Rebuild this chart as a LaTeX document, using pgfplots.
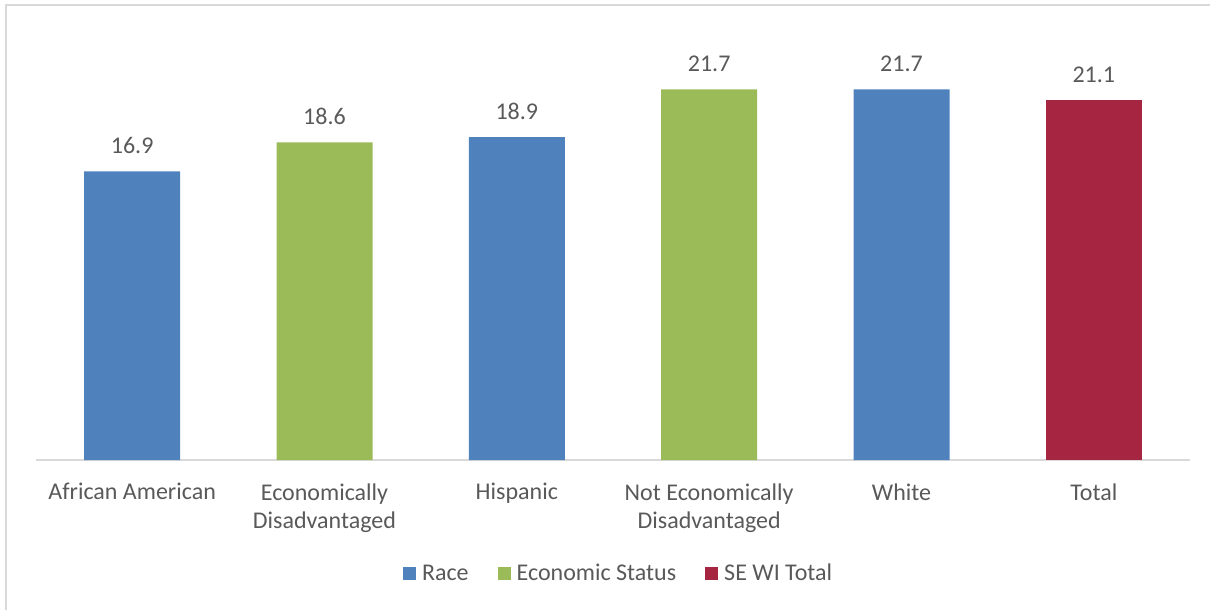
\documentclass[border=0pt]{standalone}
\usepackage{fontspec}
\setmainfont{Carlito}
\usepackage{pgfplots}
\pgfplotsset{compat=1.18}
\definecolor{tg}{HTML}{595959}
\definecolor{lg}{HTML}{D9D9D9}
\definecolor{cblue}{HTML}{4F81BD}
\definecolor{cgreen}{HTML}{9BBB59}
\definecolor{cred}{HTML}{A62541}
\newcommand\lf{\fontsize{12bp}{14bp}\selectfont}
\begin{document}
\begin{tikzpicture}
\useasboundingbox (-18bp,-75bp) rectangle (587bp,230bp);
\draw[color=lg, line width=1bp] (-14.75bp,-76bp) -- (-14.75bp,227.5bp) -- (588bp,227.5bp);
\begin{axis}[
  at={(0,0)}, anchor=south west,
  scale only axis, width=577bp, height=213.5bp,
  xmin=-0.5, xmax=5.5, ymin=0, ymax=25,
  enlargelimits=false,
  axis x line=bottom, axis y line=none,
  x axis line style={-, draw=lg, line width=0.8bp},
  major tick length=0pt,
  ytick=\empty,
  xtick={0,1,2,3,4,5},
  xticklabels={African American, {Economically\\Disadvantaged}, Hispanic, {Not Economically\\Disadvantaged}, White, Total},
  xticklabel style={font=\lf, text=tg, align=center, anchor=north, inner sep=0pt, yshift=-11.5bp},
  ybar, bar width=48bp,
  nodes near coords={\pgfmathprintnumber[fixed,fixed zerofill,precision=1,assume math mode=true]{\pgfplotspointmeta}},
  every node near coord/.append style={font=\lf, text=tg, anchor=base, inner sep=0pt, yshift=8.75bp},
  legend columns=3,
  legend style={at={(0.504,-0.267)}, anchor=center, draw=none, fill=none, font=\lf, text=tg,
    nodes={inner sep=0pt},
    /tikz/every odd column/.append style={column sep=3bp},
    /tikz/every even column/.append style={column sep=14.5bp}},
  legend image code/.code={\fill[#1] (0bp,-3bp) rectangle (6.5bp,3.5bp);},
]
\addplot[fill=cblue, draw=none, bar shift=0pt] coordinates {(0,16.9) (2,18.9) (4,21.7)};
\addlegendentry{Race}
\addplot[fill=cgreen, draw=none, bar shift=0pt] coordinates {(1,18.6) (3,21.7)};
\addlegendentry{Economic Status}
\addplot[fill=cred, draw=none, bar shift=0pt] coordinates {(5,21.1)};
\addlegendentry{SE WI Total}
\end{axis}
\end{tikzpicture}
\end{document}
